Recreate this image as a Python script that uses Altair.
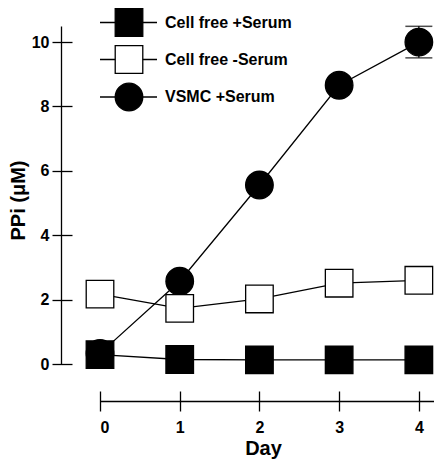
import altair as alt
import pandas as pd

# ---- data ----
days = [0, 1, 2, 3, 4]
series_names = ["VSMC +Serum", "Cell free -Serum", "Cell free +Serum"]  # draw order
cf_plus = [0.29, 0.14, 0.13, 0.13, 0.13]
cf_minus = [2.17, 1.73, 2.02, 2.51, 2.60]
vsmc = [0.33, 2.57, 5.56, 8.66, 10.0]
err_day = [4]
err_low = [9.51]
err_high = [10.49]
y_ticks = [0, 2, 4, 6, 8, 10]
x_ticks = [0, 1, 2, 3, 4]
legend_order = ["Cell free +Serum", "Cell free -Serum", "VSMC +Serum"]

values = {"VSMC +Serum": vsmc, "Cell free -Serum": cf_minus, "Cell free +Serum": cf_plus}
rows = []
for s in series_names:
    for d, v in zip(days, values[s]):
        rows.append({"series": s, "day": d, "ppi": v})
df = pd.DataFrame(rows)
err = pd.DataFrame({"day": err_day, "lo": err_low, "hi": err_high})

FONT = "Liberation Sans, Arial, Helvetica, sans-serif"
shape_scale = alt.Scale(domain=series_names, range=["circle", "square", "square"])
fill_scale = alt.Scale(domain=series_names, range=["black", "white", "black"])

xs = alt.Scale(domain=[0, 4.19], nice=False, zero=False)
ys = alt.Scale(domain=[0, 10.5], nice=False)

axis_x_ticks = alt.Axis(orient="bottom", values=x_ticks, offset=27, tickSize=20, tickWidth=1.3,
                        tickColor="black", domain=False, grid=False, labelFont=FONT,
                        labelFontSize=16, labelFontWeight="bold", labelColor="black",
                        labelPadding=8, format="d", title="Day", titleFont=FONT,
                        titleFontSize=20, titleFontWeight="bold", titleColor="black",
                        titleX=163, titleY=63, titleBaseline="alphabetic", titleAlign="center")
axis_x_dom = alt.Axis(orient="bottom", offset=37, ticks=False, labels=False, grid=False,
                      domain=True, domainColor="black", domainWidth=1.3, title=None)
axis_y_ticks = alt.Axis(orient="left", values=y_ticks, offset=28, tickSize=20, tickWidth=1.3,
                        tickColor="black", domain=False, grid=False, labelFont=FONT,
                        labelFontSize=16, labelFontWeight="bold", labelColor="black",
                        labelPadding=3, title="PPi (μM)", titleFont=FONT, titleFontSize=20,
                        titleFontWeight="bold", titleColor="black", titleAngle=270,
                        titleX=-48, titleY=174, titleBaseline="alphabetic", titleAlign="center")
axis_y_dom = alt.Axis(orient="left", offset=39, ticks=False, labels=False, grid=False,
                      domain=True, domainColor="black", domainWidth=1.3, title=None)

base = alt.Chart(df)

err_rule = alt.Chart(err).mark_rule(color="black", strokeWidth=1.3).encode(
    x=alt.X("day:Q", scale=xs, axis=None),
    y=alt.Y("lo:Q", scale=ys, axis=None),
    y2="hi:Q",
)
cap_lo = alt.Chart(err).mark_tick(color="black", orient="horizontal", size=27, thickness=1.5).encode(
    x=alt.X("day:Q", scale=xs, axis=None), y=alt.Y("lo:Q", scale=ys, axis=None))
cap_hi = alt.Chart(err).mark_tick(color="black", orient="horizontal", size=27, thickness=1.5).encode(
    x=alt.X("day:Q", scale=xs, axis=None), y=alt.Y("hi:Q", scale=ys, axis=None))

lines = base.mark_line(color="black", strokeWidth=1.3).encode(
    x=alt.X("day:Q", scale=xs, axis=axis_x_ticks),
    y=alt.Y("ppi:Q", scale=ys, axis=axis_y_ticks),
    detail="series:N",
    order="day:Q",
)

points = base.mark_point(filled=False, opacity=1, stroke="black", strokeWidth=1.3, size=760).encode(
    x=alt.X("day:Q", scale=xs, axis=axis_x_dom),
    y=alt.Y("ppi:Q", scale=ys, axis=axis_y_dom),
    shape=alt.Shape("series:N", scale=shape_scale, legend=None),
    fill=alt.Fill("series:N", scale=fill_scale, legend=None),
)

# manual legend (line through marker, then label)
leg_y = [-3.5, 33.5, 71]
legend_layers = []
for name, yy in zip(legend_order, leg_y):
    ldf = pd.DataFrame({"series": [name]})
    lb = alt.Chart(ldf)
    legend_layers.append(lb.mark_rule(color="black", strokeWidth=1.3).encode(
        x=alt.value(0), x2=alt.value(57), y=alt.value(yy)))
    legend_layers.append(lb.mark_point(filled=False, opacity=1, stroke="black", strokeWidth=1.3,
                                       size=760).encode(
        x=alt.value(29), y=alt.value(yy),
        shape=alt.Shape("series:N", scale=shape_scale, legend=None),
        fill=alt.Fill("series:N", scale=fill_scale, legend=None)))
    legend_layers.append(lb.mark_text(align="left", baseline="middle", font=FONT, fontSize=16,
                                      fontWeight="bold", color="black").encode(
        x=alt.value(65), y=alt.value(yy), text="series:N"))

chart = alt.layer(err_rule, cap_lo, cap_hi, lines, points, *legend_layers).resolve_axis(
    x="independent", y="independent"
).properties(
    width=334, height=338,
    autosize=alt.AutoSizeParams(type="none"),
    padding={"left": 92, "top": 18, "right": 0, "bottom": 96},
).configure(background="white").configure_view(stroke=None, strokeWidth=0)

chart.save("out.html", embed_options={"renderer": "svg", "actions": False})
